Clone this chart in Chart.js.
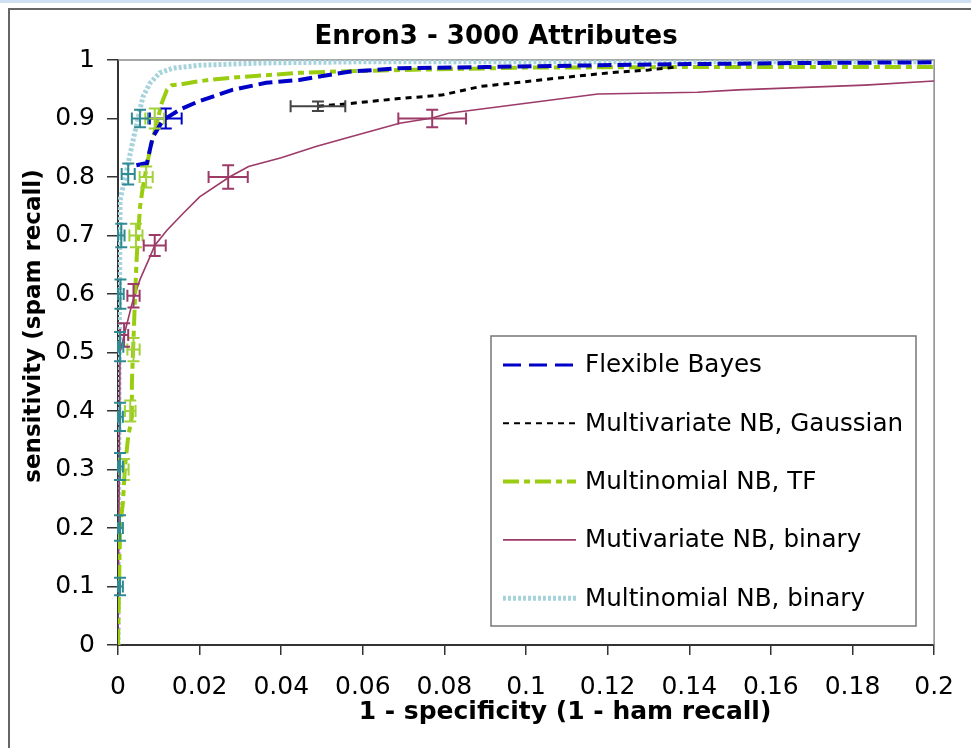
<!DOCTYPE html>
<html>
<head>
<meta charset="utf-8">
<script src="https://cdn.jsdelivr.net/npm/chart.js@4"></script>
<style>
  body { margin: 0; background: #fff; }
</style>
</head>
<body>
<canvas id="grafico" width="971" height="748"></canvas>
<script>
const chartTitle = "Enron3 - 3000 Attributes";
const xTitle = "1 - specificity (1 - ham recall)";
const yTitle = "sensitivity (spam recall)";

const xTicks = [0, 0.02, 0.04, 0.06, 0.08, 0.1, 0.12, 0.14, 0.16, 0.18, 0.2];
const yTicks = [0, 0.1, 0.2, 0.3, 0.4, 0.5, 0.6, 0.7, 0.8, 0.9, 1];

const labels = [
  "Flexible Bayes",
  "Multivariate NB, Gaussian",
  "Multinomial NB, TF",
  "Mutivariate NB, binary",
  "Multinomial NB, binary",
];

// Flexible Bayes
const fbX = [0.0045, 0.0071, 0.0085, 0.011, 0.0151, 0.0193, 0.028, 0.0363, 0.0444, 0.0566, 0.069, 0.09, 0.118, 0.14, 0.17, 0.2];
const fbY = [0.82, 0.824, 0.868, 0.897, 0.915, 0.928, 0.949, 0.961, 0.966, 0.98, 0.986, 0.988, 0.991, 0.993, 0.995, 0.996];
// Multivariate NB, Gaussian
const mgX = [0.049, 0.0559, 0.0688, 0.0793, 0.089, 0.0973, 0.105, 0.113, 0.122, 0.13, 0.137];
const mgY = [0.921, 0.925, 0.934, 0.94, 0.955, 0.961, 0.967, 0.973, 0.979, 0.983, 0.988];
// Multinomial NB, TF
const tfX = [0, 0.0005, 0.0012, 0.0017, 0.0025, 0.0034, 0.0034, 0.0037, 0.0042, 0.0046, 0.0054, 0.0061, 0.0078, 0.0095, 0.0107, 0.012, 0.0132, 0.0151, 0.0183, 0.0224, 0.03, 0.0363, 0.0444, 0.052, 0.07, 0.1, 0.14, 0.2];
const tfY = [0, 0.2, 0.243, 0.304, 0.356, 0.39, 0.448, 0.504, 0.6, 0.665, 0.749, 0.783, 0.846, 0.892, 0.926, 0.949, 0.957, 0.958, 0.962, 0.966, 0.971, 0.974, 0.978, 0.98, 0.983, 0.987, 0.988, 0.988];
// Mutivariate NB, binary
const mbX = [0, 0.0003, 0.0005, 0.0015, 0.0035, 0.0054, 0.0078, 0.009, 0.012, 0.016, 0.02, 0.0273, 0.032, 0.04, 0.0485, 0.0566, 0.069, 0.077, 0.081, 0.091, 0.1, 0.1176, 0.142, 0.152, 0.183, 0.2];
const mbY = [0, 0.3, 0.5, 0.53, 0.585, 0.625, 0.663, 0.683, 0.709, 0.738, 0.766, 0.8, 0.818, 0.833, 0.852, 0.868, 0.892, 0.901, 0.909, 0.918, 0.926, 0.942, 0.945, 0.949, 0.957, 0.964];
// Multinomial NB, binary
const nbX = [0, 0.0003, 0.0005, 0.002, 0.0037, 0.0049, 0.0061, 0.0078, 0.0102, 0.0134, 0.02, 0.036, 0.06, 0.1, 0.2];
const nbY = [0, 0.5, 0.76, 0.807, 0.863, 0.9, 0.937, 0.96, 0.978, 0.986, 0.991, 0.995, 0.997, 0.997, 0.997];

// error bars: [x, y, half width in x, half height in y]
const fbErr = [[0.0117, 0.9, 0.0039, 0.017]];
const mgErr = [[0.049, 0.921, 0.0067, 0.008]];
const tfErr = [[0.0015, 0.3, 0.0011, 0.018], [0.003, 0.4, 0.0013, 0.018], [0.0038, 0.505, 0.0015, 0.02],
  [0.0044, 0.7, 0.0016, 0.02], [0.0069, 0.8, 0.0016, 0.018], [0.009, 0.9, 0.0023, 0.017]];
const mbErr = [[0.0015, 0.53, 0.001, 0.02], [0.0038, 0.597, 0.0015, 0.02], [0.009, 0.683, 0.0027, 0.018],
  [0.027, 0.8, 0.0048, 0.02], [0.077, 0.9, 0.0083, 0.015]];
const nbErr = [[0.0005, 0.1, 0.0007, 0.015], [0.0005, 0.2, 0.0007, 0.022], [0.0005, 0.305, 0.0007, 0.023],
  [0.0005, 0.39, 0.0007, 0.024], [0.0005, 0.51, 0.0008, 0.025], [0.0006, 0.6, 0.0008, 0.025],
  [0.0008, 0.7, 0.0008, 0.02], [0.0025, 0.805, 0.0016, 0.018], [0.0054, 0.9, 0.002, 0.015]];

const FONT = '"DejaVu Sans", sans-serif';

function puntos(xs, ys) {
  return xs.map((x, i) => ({ x: x, y: ys[i] }));
}

// marco de la ventana y borde del área de trazado
const marco = {
  id: "marco",
  beforeDraw(chart) {
    const ctx = chart.ctx;
    ctx.save();
    ctx.fillStyle = "#fff";
    ctx.fillRect(0, 0, chart.width, chart.height);
    ctx.fillStyle = "#cfe0f3";
    ctx.fillRect(0, 0, chart.width, 3);
    ctx.strokeStyle = "#666";
    ctx.lineWidth = 2;
    ctx.beginPath();
    ctx.moveTo(9, chart.height);
    ctx.lineTo(9, 9);
    ctx.lineTo(chart.width, 9);
    ctx.stroke();
    ctx.restore();
  },
  beforeDatasetsDraw(chart) {
    const { ctx, chartArea: a } = chart;
    ctx.save();
    ctx.strokeStyle = "#8a8a8a";
    ctx.lineWidth = 1.5;
    ctx.beginPath();
    ctx.moveTo(a.left, a.top);
    ctx.lineTo(a.right, a.top);
    ctx.lineTo(a.right, a.bottom);
    ctx.stroke();
    ctx.restore();
  },
};

const barrasError = {
  id: "barrasError",
  afterDatasetsDraw(chart) {
    const { ctx, scales } = chart;
    const sx = scales.x, sy = scales.y;
    chart.data.datasets.forEach((ds) => {
      if (!ds.errores) return;
      ctx.save();
      ctx.strokeStyle = ds.colorError;
      ctx.lineWidth = 2;
      ctx.setLineDash([]);
      const c = 6;
      ds.errores.forEach(([cx, cy, dx, dy]) => {
        const px = sx.getPixelForValue(cx);
        const py = sy.getPixelForValue(cy);
        const x0 = sx.getPixelForValue(Math.max(0, cx - dx));
        const x1 = sx.getPixelForValue(cx + dx);
        const y0 = sy.getPixelForValue(cy - dy);
        const y1 = sy.getPixelForValue(cy + dy);
        ctx.beginPath();
        ctx.moveTo(x0, py); ctx.lineTo(x1, py);
        ctx.moveTo(x0, py - c); ctx.lineTo(x0, py + c);
        ctx.moveTo(x1, py - c); ctx.lineTo(x1, py + c);
        ctx.moveTo(px, y0); ctx.lineTo(px, y1);
        ctx.moveTo(px - c, y0); ctx.lineTo(px + c, y0);
        ctx.moveTo(px - c, y1); ctx.lineTo(px + c, y1);
        ctx.stroke();
      });
      ctx.restore();
    });
  },
};

// leyenda dentro del área, como en la figura original
const leyenda = {
  id: "leyenda",
  afterDraw(chart) {
    const ctx = chart.ctx;
    const bx = 491, by = 336, bw = 425, bh = 290;
    ctx.save();
    ctx.fillStyle = "#fff";
    ctx.fillRect(bx, by, bw, bh);
    ctx.strokeStyle = "#777";
    ctx.lineWidth = 1.5;
    ctx.strokeRect(bx, by, bw, bh);
    chart.data.datasets.forEach((ds, i) => {
      const y = 365 + i * 58.3;
      ctx.strokeStyle = ds.borderColor;
      ctx.lineWidth = ds.legendWidth || ds.borderWidth;
      ctx.setLineDash(ds.legendDash || ds.borderDash || []);
      ctx.beginPath();
      ctx.moveTo(503, y);
      ctx.lineTo(576, y);
      ctx.stroke();
      ctx.setLineDash([]);
      ctx.fillStyle = "#000";
      ctx.font = "24.6px " + FONT;
      ctx.textAlign = "left";
      ctx.textBaseline = "middle";
      ctx.fillText(ds.label, 585, y + 1);
    });
    ctx.restore();
  },
};

const titulos = {
  id: "titulos",
  afterDraw(chart) {
    const ctx = chart.ctx;
    ctx.save();
    ctx.fillStyle = "#000";
    ctx.textAlign = "center";
    ctx.textBaseline = "alphabetic";
    ctx.font = "bold 26px " + FONT;
    ctx.fillText(chartTitle, 496, 44);
    ctx.font = "bold 25px " + FONT;
    ctx.fillText(xTitle, 565, 719);
    ctx.font = "bold 23px " + FONT;
    ctx.translate(40, 326);
    ctx.rotate(-Math.PI / 2);
    ctx.fillText(yTitle, 0, 0);
    ctx.restore();
  },
};

const ctx = document.getElementById("grafico").getContext("2d");
new Chart(ctx, {
  type: "line",
  data: {
    datasets: [
      {
        label: labels[0],
        data: puntos(fbX, fbY),
        borderColor: "#0000c8",
        borderWidth: 4,
        borderDash: [14, 6],
        legendWidth: 3,
        legendDash: [18, 8],
        errores: fbErr,
        colorError: "#0000c8",
        order: 2,
      },
      {
        label: labels[1],
        data: puntos(mgX, mgY),
        borderColor: "#000",
        borderWidth: 3,
        borderDash: [6, 5],
        legendWidth: 2,
        legendDash: [6, 5],
        errores: mgErr,
        colorError: "#444",
        order: 1,
      },
      {
        label: labels[2],
        data: puntos(tfX, tfY),
        borderColor: "#9acc10",
        borderWidth: 4,
        borderDash: [16, 5, 6, 5],
        legendWidth: 4,
        errores: tfErr,
        colorError: "#a3d13a",
        order: 3,
      },
      {
        label: labels[3],
        data: puntos(mbX, mbY),
        borderColor: "#9c3a68",
        borderWidth: 1.6,
        errores: mbErr,
        colorError: "#9c3a68",
        order: 4,
      },
      {
        label: labels[4],
        data: puntos(nbX, nbY),
        borderColor: "#a6d3dc",
        borderWidth: 5,
        borderDash: [3, 2],
        errores: nbErr,
        colorError: "#2f8a92",
        order: 5,
      },
    ],
  },
  options: {
    responsive: false,
    animation: false,
    devicePixelRatio: 1,
    layout: { padding: { top: 60, right: 31, left: 0, bottom: 0 } },
    elements: { point: { radius: 0 }, line: { tension: 0 } },
    plugins: {
      legend: { display: false },
      tooltip: { enabled: false },
      title: { display: false },
    },
    scales: {
      x: {
        type: "linear",
        min: xTicks[0],
        max: xTicks[xTicks.length - 1],
        afterFit: (s) => { s.height = 103; },
        afterBuildTicks: (s) => { s.ticks = xTicks.map((v) => ({ value: v })); },
        ticks: {
          padding: 17,
          color: "#000",
          font: { family: FONT, size: 25 },
          maxRotation: 0,
          callback: (v) => String(+v.toFixed(2)),
        },
        grid: { drawOnChartArea: false, tickLength: 10, color: "#333", lineWidth: 1.5 },
        border: { color: "#333", width: 2 },
      },
      y: {
        min: yTicks[0],
        max: yTicks[yTicks.length - 1],
        afterFit: (s) => { s.width = 118; },
        afterBuildTicks: (s) => { s.ticks = yTicks.map((v) => ({ value: v })); },
        ticks: {
          padding: 12,
          color: "#000",
          font: { family: FONT, size: 25 },
          callback: (v) => String(+v.toFixed(1)),
        },
        grid: { drawOnChartArea: false, tickLength: 11, color: "#333", lineWidth: 1.5 },
        border: { color: "#333", width: 2 },
      },
    },
  },
  plugins: [marco, barrasError, leyenda, titulos],
});
</script>
</body>
</html>
